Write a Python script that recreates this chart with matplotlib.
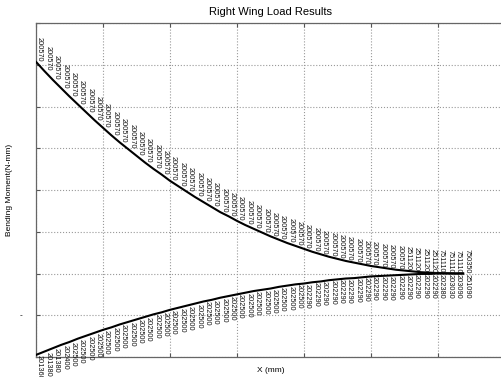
import matplotlib
matplotlib.use("Agg")
import matplotlib.pyplot as plt

plt.rcParams["font.family"] = ["Liberation Sans", "DejaVu Sans"]

# Station positions (mm)
x_mm = [0, 125, 250, 375, 500, 625, 750, 875, 1000, 1125, 1250, 1375, 1500, 1625,
        1750, 1875, 2000, 2125, 2250, 2375, 2500, 2625, 2750, 2875, 3000, 3125,
        3250, 3375, 3500, 3625, 3750, 3875, 4000, 4125, 4250, 4375, 4500, 4625,
        4750, 4875, 5000, 5125, 5250, 5375, 5500, 5625, 5750, 5875, 6000, 6125,
        6250, 6375]

# Upper curve (arbitrary units of 1e6 N-mm)
upper = [7.07, 6.85, 6.64, 6.44, 6.24, 6.05, 5.86, 5.67, 5.49, 5.31, 5.14, 4.98,
         4.82, 4.66, 4.51, 4.37, 4.22, 4.09, 3.96, 3.83, 3.71, 3.59, 3.47, 3.37,
         3.26, 3.16, 3.07, 2.98, 2.89, 2.81, 2.73, 2.66, 2.59, 2.52, 2.46, 2.40,
         2.35, 2.30, 2.26, 2.22, 2.18, 2.15, 2.12, 2.09, 2.07, 2.05, 2.03, 2.02,
         2.01, 2.006, 2.00, 2.00]

# Lower curve
lower = [0.05, 0.13, 0.21, 0.29, 0.36, 0.44, 0.51, 0.58, 0.65, 0.71, 0.78, 0.84,
         0.90, 0.96, 1.02, 1.07, 1.13, 1.18, 1.23, 1.28, 1.33, 1.37, 1.42, 1.46,
         1.50, 1.54, 1.58, 1.61, 1.64, 1.68, 1.71, 1.74, 1.76, 1.79, 1.81, 1.84,
         1.86, 1.88, 1.89, 1.91, 1.93, 1.94, 1.95, 1.96, 1.97, 1.98, 1.99, 1.99,
         2.00, 2.00, 2.00, 2.00]

upper_labels = ["200570"] * 44 + ["251120"] * 4 + ["751110"] * 3 + ["750350"]
lower_labels = (["201360", "201380", "201380", "202400"] + ["202500"] * 28 +
                ["202290"] * 16 + ["202380", "203030", "203090", "251090"])

title = "Right Wing Load Results"
xlabel = "X (mm)"
ylabel = "Bending Moment(N-mm)"

fig = plt.figure(figsize=(5.02, 3.77), dpi=100)
W, H = 502, 377
left, right, top, bottom = 36, 505, 23, 357
ax = fig.add_axes([left / W, 1 - bottom / H, (right - left) / W, (bottom - top) / H])

ax.plot(x_mm, upper, color="black", lw=1.5, zorder=3)
ax.plot(x_mm, lower, color="black", lw=1.5, zorder=3)

for xv, yv, s in zip(x_mm, upper, upper_labels):
    ax.text(xv, yv, s, rotation=-90, ha="left", va="bottom", fontsize=5.3,
            color="#111111", clip_on=False)
for xv, yv, s in zip(x_mm, lower, lower_labels):
    ax.text(xv, yv, s, rotation=-90, ha="left", va="top", fontsize=5.3,
            color="#111111", clip_on=False)

ax.set_xlim(0, 7000)
ax.set_ylim(0, 8)
ax.set_xticks(range(0, 7001, 1000))
ax.set_yticks(range(0, 9))
ax.set_xticklabels([])
ax.set_yticklabels([])
ax.tick_params(direction="in", length=3, top=True, right=True, color="#555555")
ax.grid(True, linestyle=":", color="#999999", lw=0.8)
for sp in ax.spines.values():
    sp.set_color("#666666")
    sp.set_linewidth(0.9)

fig.text(271 / W, 1 - 12 / H, title, ha="center", va="center", fontsize=8)
fig.text(271 / W, 1 - 370 / H, xlabel, ha="center", va="center", fontsize=6)
fig.text(10 / W, 1 - 190 / H, ylabel, ha="center", va="center", rotation=90,
         fontsize=6)
fig.text(21 / W, 1 - 316 / H, "-", ha="center", va="center", fontsize=6)

fig.savefig("out.png", dpi=100)
